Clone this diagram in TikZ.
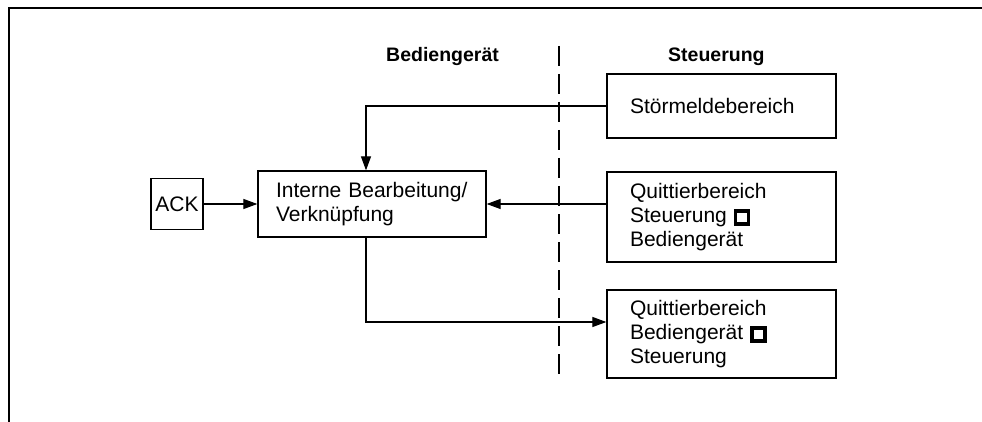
\documentclass[tikz,border=0pt]{standalone}
\usepackage{fontspec}
\setmainfont{Liberation Sans}
\usetikzlibrary{arrows.meta,calc}

% small thick-bordered square used as a direction mark
\newcommand\qsquare{\begingroup\setlength\fboxsep{0pt}\setlength\fboxrule{3.4pt}%
  \fbox{\rule{0pt}{9.6pt}\rule{9.6pt}{0pt}}\endgroup}

\begin{document}
\begin{tikzpicture}[x=1pt,y=-1pt,
  font=\fontsize{21pt}{24pt}\selectfont,
  box/.style={draw, line width=1.3pt, rectangle, inner ysep=0pt, align=left},
  head/.style={font=\fontsize{19.5pt}{23pt}\selectfont\bfseries, inner sep=0pt, anchor=base west},
  conn/.style={line width=1.2pt, -{Triangle[length=14pt,width=10pt]}},
  divider/.style={line width=1.2pt, dash pattern=on 20pt off 8pt}]
  \useasboundingbox (0,0) rectangle (982,422);

  % outer frame
  \draw[line width=1.5pt] (9,422) -- (9,8) -- (982,8);

  % column headings
  \node[head] (hbg) at (386,62) {Bediengerät};
  \node[head] (hst) at (668,62) {Steuerung};

  % separation between the two devices
  \coordinate (dtop) at (559,46);
  \coordinate (dbot) at (559,376);
  \draw[divider] (dtop) -- (dbot);

  % blocks
  \node[box, minimum width=52pt, minimum height=51pt, inner xsep=0pt, align=center] (ack) at (177,204) {ACK};
  \node[box, minimum width=228pt, minimum height=66pt, inner xsep=18pt, text width=192pt] (intern) at (372,204)
    {Interne Bearbeitung/\\Verknüpfung};
  \node[box, minimum width=229pt, minimum height=64pt, inner xsep=23pt, text width=183pt] (stoer) at (721.5,106)
    {Störmeldebereich};
  \node[box, minimum width=229pt, minimum height=90pt, inner xsep=23pt, text width=183pt] (q1) at (721.5,217)
    {Quittierbereich\\Steuerung \qsquare\\Bediengerät};
  \node[box, minimum width=229pt, minimum height=88pt, inner xsep=23pt, text width=183pt] (q2) at (721.5,334)
    {Quittierbereich\\Bediengerät \qsquare\\Steuerung};

  % connections
  \draw[conn] (stoer.west) -| ([xshift=-6pt]intern.north);
  \draw[conn] (intern.east -| q1.west) -- (intern.east);
  \draw[conn] (ack.east) -- (intern.west);
  \draw[conn] ([xshift=-6pt]intern.south) |- ([yshift=12pt]q2.west);
\end{tikzpicture}
\end{document}
